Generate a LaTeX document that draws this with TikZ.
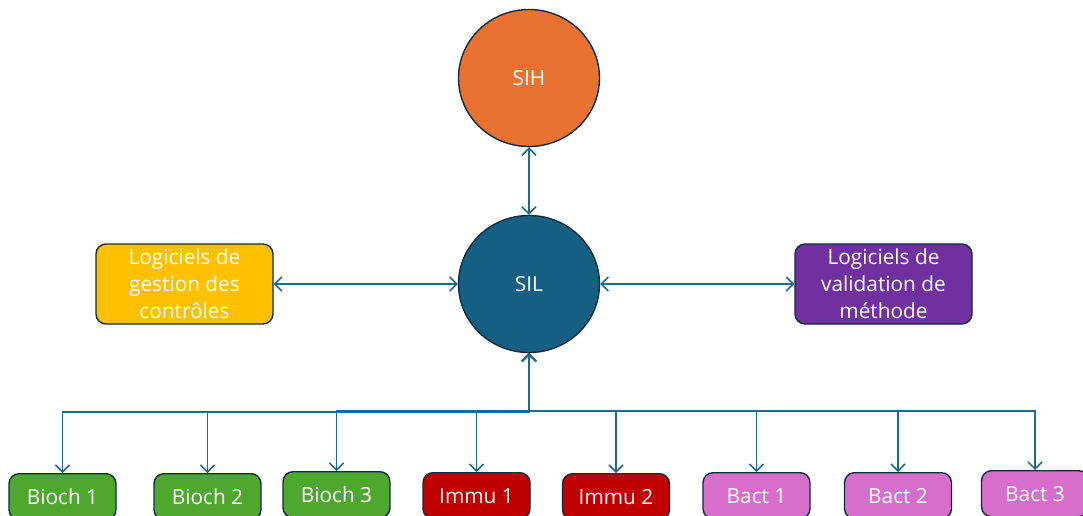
\documentclass[tikz,border=0pt]{standalone}
\usepackage{fontspec}
\setmainfont{Open Sans}
\usetikzlibrary{arrows.meta,shapes.geometric}

\definecolor{sihfill}{HTML}{E97132}
\definecolor{silfill}{HTML}{156082}
\definecolor{gestfill}{HTML}{FFC000}
\definecolor{validfill}{HTML}{7030A0}
\definecolor{biofill}{HTML}{4EA72E}
\definecolor{immfill}{HTML}{C00000}
\definecolor{bactfill}{HTML}{D86ECC}
\definecolor{edge}{HTML}{0E2D3C}
\definecolor{linkcol}{HTML}{1D6A8E}

\begin{document}
\begin{tikzpicture}[x=0.5pt,y=-0.5pt,
  every node/.style={font=\fontsize{10.4}{13.5}\selectfont, text=white},
  hub/.style={ellipse, draw=edge, line width=0.7pt, minimum width=70.5pt,
    minimum height=68.5pt, inner sep=0pt},
  sidebox/.style={rectangle, rounded corners=5pt, draw=edge, line width=0.7pt,
    minimum width=88.5pt, minimum height=40pt, align=center, inner sep=0pt},
  labbox/.style={rectangle, rounded corners=5pt, draw=edge, line width=0.7pt,
    minimum width=53.5pt, minimum height=23pt, inner sep=0pt, anchor=north},
  link/.style={draw=linkcol, line width=0.75pt,
    arrows={Straight Barb[length=3.5pt,width=7pt]-Straight Barb[length=3.5pt,width=7pt]}},
]
\clip (0,0) rectangle (1083,515);

% central systems
\node[hub, fill=sihfill] (sih) at (529,78) {SIH};
\node[hub, fill=silfill] (sil) at (529,284) {SIL};

% side software
\node[sidebox, fill=gestfill] (gest) at (184.5,284) {Logiciels de\\gestion des\\contrôles};
\node[sidebox, fill=validfill] (valid) at (883.5,284) {Logiciels de\\validation de\\méthode};

% analysers
\node[labbox, fill=biofill] (b1) at (62.5,473) {Bioch 1};
\node[labbox, fill=biofill] (b2) at (207.5,473) {Bioch 2};
\node[labbox, fill=biofill] (b3) at (336.5,471) {Bioch 3};
\node[labbox, fill=immfill] (i1) at (476.5,472) {Immu 1};
\node[labbox, fill=immfill] (i2) at (616,473) {Immu 2};
\node[labbox, fill=bactfill] (c1) at (756.5,472) {Bact 1};
\node[labbox, fill=bactfill] (c2) at (898,472) {Bact 2};
\node[labbox, fill=bactfill] (c3) at (1035,470) {Bact 3};

% bus levels below the SIL
\coordinate (busL) at (529,412);
\coordinate (busR) at (529,411);

% links
\draw[link] (sih) -- (sil);
\draw[link] (gest) -- (sil);
\draw[link] (sil) -- (valid);

\draw[link] (sil.south) -- (busL) -| (b1.north);
\draw[link] (sil.south) -- (busL) -| (b2.north);
\draw[link] (sil.south) -- (busR) -| (b3.north);
\draw[link] (sil.south) -- (busL) -| (i1.north);
\draw[link] (sil.south) -- (busR) -| (i2.north);
\draw[link] (sil.south) -- (busR) -| (c1.north);
\draw[link] (sil.south) -- (busR) -| (c2.north);
\draw[link] (sil.south) -- (busR) -| (c3.north);
\end{tikzpicture}
\end{document}
